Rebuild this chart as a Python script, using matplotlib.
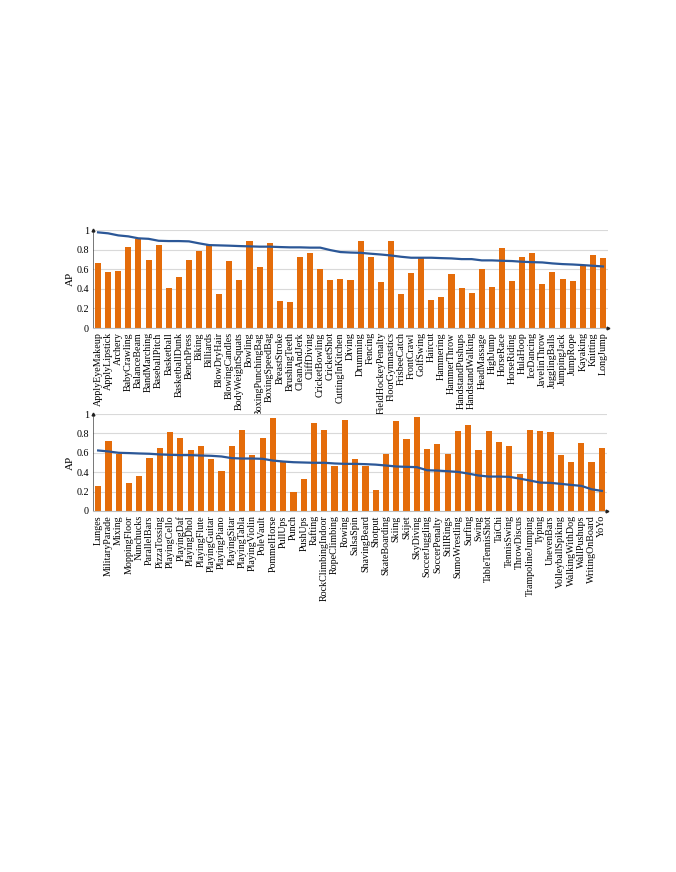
import matplotlib
matplotlib.use("Agg")
import matplotlib.pyplot as plt

plt.rcParams['font.family'] = ['Liberation Serif', 'DejaVu Serif']

# Per-class AP, part 1 (A-L)
classes_top = ["ApplyEyeMakeup", "ApplyLipstick", "Archery", "BabyCrawling", "BalanceBeam",
               "BandMarching", "BaseballPitch", "Basketball", "BasketballDunk", "BenchPress",
               "Biking", "Billiards", "BlowDryHair", "BlowingCandles", "BodyWeightSquats",
               "Bowling", "BoxingPunchingBag", "BoxingSpeedBag", "BreastStroke", "BrushingTeeth",
               "CleanAndJerk", "CliffDiving", "CricketBowling", "CricketShot", "CuttingInKitchen",
               "Diving", "Drumming", "Fencing", "FieldHockeyPenalty", "FloorGymnastics",
               "FrisbeeCatch", "FrontCrawl", "GolfSwing", "Haircut", "Hammering",
               "HammerThrow", "HandstandPushups", "HandstandWalking", "HeadMassage", "HighJump",
               "HorseRace", "HorseRiding", "HulaHoop", "IceDancing", "JavelinThrow",
               "JugglingBalls", "JumpingJack", "JumpRope", "Kayaking", "Knitting", "LongJump"]
ap_top = [0.66, 0.57, 0.58, 0.83, 0.91, 0.69, 0.85, 0.41, 0.52, 0.69,
          0.79, 0.85, 0.35, 0.68, 0.49, 0.89, 0.62, 0.87, 0.28, 0.27,
          0.72, 0.77, 0.60, 0.49, 0.495, 0.485, 0.89, 0.72, 0.47, 0.89,
          0.35, 0.56, 0.71, 0.29, 0.32, 0.55, 0.41, 0.355, 0.60, 0.42,
          0.82, 0.48, 0.72, 0.77, 0.45, 0.57, 0.495, 0.48, 0.63, 0.74, 0.71]
line_top = [0.976, 0.966, 0.945, 0.935, 0.915, 0.91, 0.89, 0.887, 0.887, 0.884,
            0.864, 0.846, 0.843, 0.84, 0.836, 0.833, 0.83, 0.83, 0.826, 0.823,
            0.823, 0.82, 0.82, 0.795, 0.775, 0.77, 0.767, 0.758, 0.75, 0.74,
            0.727, 0.717, 0.717, 0.717, 0.713, 0.71, 0.703, 0.703, 0.69, 0.69,
            0.686, 0.683, 0.676, 0.672, 0.669, 0.659, 0.652, 0.648, 0.642, 0.635, 0.628]

# Per-class AP, part 2 (L-Y)
classes_bot = ["Lunges", "MilitaryParade", "Mixing", "MoppingFloor", "Nunchucks",
               "ParallelBars", "PizzaTossing", "PlayingCello", "PlayingDaf", "PlayingDhol",
               "PlayingFlute", "PlayingGuitar", "PlayingPiano", "PlayingSitar", "PlayingTabla",
               "PlayingViolin", "PoleVault", "PommelHorse", "PullUps", "Punch",
               "PushUps", "Rafting", "RockClimbingIndoor", "RopeClimbing", "Rowing",
               "SalsaSpin", "ShavingBeard", "Shotput", "SkateBoarding", "Skiing",
               "Skijet", "SkyDiving", "SoccerJuggling", "SoccerPenalty", "StillRings",
               "SumoWrestling", "Surfing", "Swing", "TableTennisShot", "TaiChi",
               "TennisSwing", "ThrowDiscus", "TrampolineJumping", "Typing", "UnevenBars",
               "VolleyballSpiking", "WalkingWithDog", "WallPushups", "WritingOnBoard", "YoYo"]
ap_bot = [0.26, 0.72, 0.59, 0.29, 0.36, 0.545, 0.65, 0.81, 0.75, 0.63,
          0.67, 0.54, 0.41, 0.67, 0.83, 0.58, 0.755, 0.96, 0.51, 0.20,
          0.335, 0.91, 0.83, 0.46, 0.94, 0.54, 0.46, 0.22, 0.59, 0.93,
          0.74, 0.97, 0.64, 0.69, 0.59, 0.82, 0.89, 0.63, 0.82, 0.71,
          0.665, 0.38, 0.83, 0.82, 0.81, 0.58, 0.51, 0.70, 0.50, 0.645]
line_bot = [0.624, 0.614, 0.60, 0.597, 0.593, 0.59, 0.583, 0.579, 0.576, 0.576,
            0.572, 0.569, 0.562, 0.545, 0.541, 0.541, 0.538, 0.52, 0.51, 0.503,
            0.50, 0.497, 0.497, 0.49, 0.486, 0.486, 0.483, 0.478, 0.469, 0.459,
            0.455, 0.452, 0.42, 0.417, 0.41, 0.403, 0.386, 0.366, 0.355, 0.355,
            0.352, 0.334, 0.314, 0.293, 0.29, 0.28, 0.269, 0.259, 0.224, 0.207]

bar_color = '#E46C0A'
line_color = '#2B5797'
yticks = [0, 0.2, 0.4, 0.6, 0.8, 1]
ylabels = ['0', '0.2', '0.4', '0.6', '0.8', '1']

fig = plt.figure(figsize=(6.76, 8.72), dpi=100)
ax1 = fig.add_axes([93 / 676, 1 - 328 / 872, 515 / 676, 98 / 872])
ax2 = fig.add_axes([93 / 676, 1 - 511 / 872, 514 / 676, 97 / 872])

def draw(ax, names, ap, line):
    x = list(range(len(names)))
    ax.set_axisbelow(True)
    ax.yaxis.grid(True, color='#D9D9D9', linewidth=0.8)
    ax.bar(x, ap, width=0.6, color=bar_color, zorder=2)
    ax.plot(x, line, color=line_color, linewidth=1.6, zorder=3)
    ax.set_xlim(-0.5, len(names) - 0.5)
    ax.set_ylim(0, 1)
    ax.set_yticks(yticks)
    ax.set_yticklabels(ylabels, fontsize=7.3)
    ax.set_xticks(x)
    ax.set_xticklabels(names, rotation=90, fontsize=7.2)
    ax.tick_params(axis='both', length=0, pad=3)
    ax.set_ylabel('AP', fontsize=8, labelpad=1)
    for s in ['top', 'right']:
        ax.spines[s].set_visible(False)
    ax.spines['left'].set_color('#404040')
    ax.spines['left'].set_linewidth(0.5)
    ax.spines['bottom'].set_color('#BFBFBF')
    ax.spines['bottom'].set_linewidth(0.8)
    # small arrow heads at the axis ends
    ax.plot([-0.5], [1.0], marker='^', markersize=2, color='#202020',
            clip_on=False, zorder=4)
    ax.plot([len(names) - 0.5], [0], marker='>', markersize=2, color='#202020',
            clip_on=False, zorder=4)

draw(ax1, classes_top, ap_top, line_top)
draw(ax2, classes_bot, ap_bot, line_bot)

fig.savefig('out.png', dpi=100)
